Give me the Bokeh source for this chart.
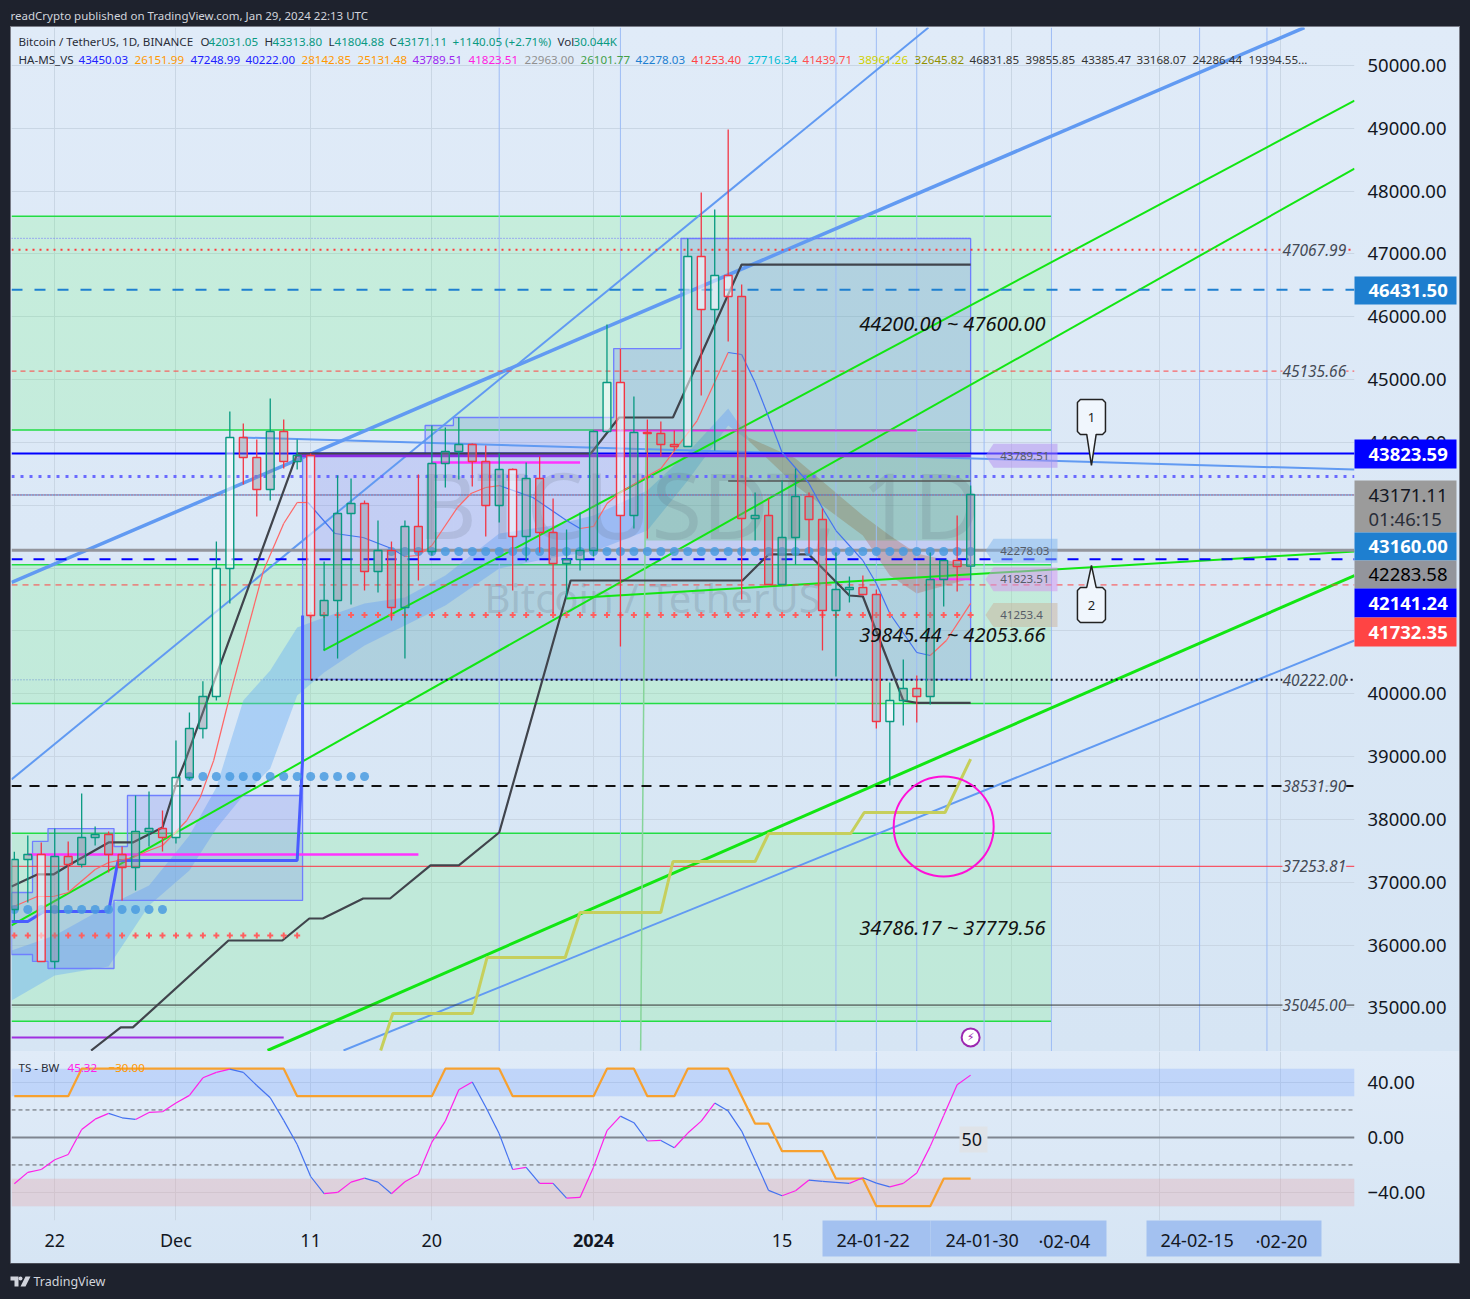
from bokeh.plotting import figure
from bokeh.layouts import column
from bokeh.models import Range1d, FixedTicker, Grid, Label, BoxAnnotation, NumeralTickFormatter
from bokeh.core.properties import value
from bokeh.embed import file_html
from bokeh.resources import INLINE

FONT = "Noto Sans"
BG = "#dce9f6"
DARK = "#1e222d"

# ---------- candles: day (0 = 2024-01-01), open, close, high, low ----------
days = list(range(-43, 29))
o_c_h_l = [
 (36566,37362,37487,36391),(37362,37442,37744,36678),(37442,35739,37633,35739),(35739,37410,37855,35627),
 (37410,37283,37649,36869),(37283,37712,38413,37235),(37712,37760,37887,37585),(37760,37442,37807,37156),
 (37442,37235,37569,36710),(37235,37807,38381,36869),(37807,37855,38445,37569),(37855,37712,38142,37490),
 (37712,38667,39256,37617),(38667,39447,39702,38636),(39447,39957,40200,39288),(39957,41994,42423,39893),
 (41994,44079,44493,41437),(44079,43760,44302,43330),(43760,43251,44047,42821),(43251,44174,44700,43076),
 (44174,43697,44365,43585),(43697,43792,44047,43569),(43792,41246,43824,40227),(41246,41484,42105,40689),
 (41484,42869,43474,40561),(42869,43028,43426,41421),(43028,41946,43076,41644),(41946,42280,42758,41612),
 (42280,41373,42423,41166),(41373,42662,42758,40561),(42662,42264,43490,41803),(42264,43665,44270,42201),
 (43665,43856,44238,43283),(43856,43967,44397,43410),(43967,43697,43983,43298),(43697,42996,43951,42503),
 (42996,43569,43824,42726),(43569,42503,43585,41644),(42503,43426,43681,42105),(43426,42567,43776,42248),
 (42567,42073,43108,41278),(42073,42137,42614,41516),(42137,42280,42885,41962),(42280,44174,44190,42185),
 (44174,44954,45877,44174),(44954,42837,45495,40752),(42837,44158,44731,42630),(44158,44142,44365,42471),
 (44142,43967,44333,43776),(43967,43936,44190,43872),(43936,46960,47246,43936),(46960,46116,47978,44747),
 (46116,46657,47708,43872),(46657,46323,48981,45607),(46323,42789,46514,41500),(42789,42837,43203,42439),
 (42837,41739,43108,41739),(41739,42487,43394,41739),(42487,43140,43585,42057),(43140,42774,43203,42232),
 (42774,41325,42949,40689),(41325,41660,42248,40275),(41660,41692,41866,41453),(41692,41580,41882,41564),
 (41580,39558,41660,39447),(39558,39893,40179,38540),(39893,40084,40545,39495),(40084,39957,40291,39542),
 (39957,41819,42248,39829),(41819,42121,42121,41389),(42121,42026,42837,41628),(42031,43171,43314,41805),
]
light_days = [-41,-31,-28,-27,-21,-6,1,2,7,8,9,10,22]

# ---------- levels ----------
right_tags = ["46431.50", "43823.59", "43171.11", "01:46:15", "43160.00", "42283.58", "42141.24", "41732.35"]
level_texts = [("47067.99", 47067.99), ("45135.66", 45135.66), ("40222.00", 40222.00),
               ("38531.90", 38531.90), ("37253.81", 37253.81), ("35045.00", 35045.00)]
LEFT, RIGHT = -43.21, 56.5
levels = [
 (47248.99, LEFT, 28, "#6a6aff", 1, "1 2"),
 (47067.99, LEFT, RIGHT, "#ff3b3b", 2, "2 5"),
 (46431.50, LEFT, RIGHT, "#1e7fd0", 2, "11 12"),
 (45135.66, LEFT, RIGHT, "#ff4444", 1, "5 4"),
 (43823.59, LEFT, RIGHT, "#0000ff", 2, "solid"),
 (43458.00, LEFT, RIGHT, "#6a6aff", 3, "3 6"),
 (43164.00, LEFT, RIGHT, "#3a7fd0", 1, "solid"),
 (43164.00, LEFT, RIGHT, "#ff4444", 1, "1 2"),
 (42283.58, LEFT, RIGHT, "#93959c", 3, "solid"),
 (42141.24, LEFT, RIGHT, "#0000ff", 2, "11 11"),
 (41732.35, LEFT, RIGHT, "#ff4444", 1, "6 5"),
 (40222.00, LEFT, -21, "#6a90d0", 1, "1 2"),
 (40222.00, -21, RIGHT, "#111122", 2, "2 3"),
 (38531.90, LEFT, RIGHT, "#111111", 2, "10 8"),
 (37253.81, LEFT, RIGHT, "#ff3344", 1, "solid"),
 (35045.00, LEFT, RIGHT, "#333333", 1, "solid"),
 (43385.47, 10, 28, "#555555", 1.5, "solid"),
 (37442.00, -42, -13, "#ff33ff", 2.5, "solid"),
 (43681.00, -12, -1, "#ff33ff", 2.5, "solid"),
 (44190.00, 0, 24, "#e030e0", 2, "solid"),
 (43789.51, -22, 28, "#8a2be2", 3, "solid"),
 (41823.51, 25, 28, "#ff33ff", 2, "solid"),
 (34529.00, LEFT, -23, "#a030e0", 2, "solid"),
]
zone_low = [44200.00, 39845.44, 34786.17]
zone_high = [47600.00, 42053.66, 37779.56]
zone_text = ["44200.00 ~ 47600.00", "39845.44 ~ 42053.66", "34786.17 ~ 37779.56"]
zone_text_day = [26.65, 26.65, 26.65]
zone_text_price = [45895, 40945, 36280]
ZONE_END = 34
box_edges = [LEFT, -41.65, -40.5, -35.6, -34.6, -21.6, -12.5, -10.4, 1.5, 6.5, 28]
box_top = [36837, 37649, 37855, 37569, 38381, 43824, 44270, 44397, 45495, 47246]
box_bot = [35850, 35739, 35627, 36710, 36710, 40227, 40227, 40227, 40227, 40227]
rib_days = [LEFT, -40, -36, -33, -30, -28, -26, -24, -22, -20, -17, -14, -11, -7, -3, 0, 4, 7, 10, 11.5]
rib_up = [35914, 36153, 36630, 36948, 37744, 38508, 39893, 40370, 41055, 41214, 41437, 41532, 41882, 42551,
          42678, 42837, 43235, 43840, 44540, 44079]
rib_lo = [35118, 35516, 35659, 36630, 37187, 37855, 38381, 38811, 39973, 40339, 40768, 41087, 41405, 41994,
          42169, 42264, 42598, 43394, 44270, 44031]
brn_days = [11.5, 15, 20, 22, 24, 28]
brn_up = [44079, 43744, 42837, 42519, 42232, 42041]
brn_lo = [44031, 43314, 42519, 41882, 41596, 41835]
trends = [
 (LEFT, 41771, 52.78, 50604, "#619af2", 3.5),
 (LEFT, 38636, 24.87, 50604, "#619af2", 2),
 (-18.56, 34322, RIGHT, 40848, "#619af2", 2),
 (-26.06, 44079, RIGHT, 43569, "#619af2", 2),
 (LEFT, 36312, RIGHT, 48360, "#12e612", 2),
 (-20.04, 40689, RIGHT, 49442, "#12e612", 2),
 (-24.2, 34322, RIGHT, 41882, "#12e612", 3),
 (-2, 41516, RIGHT, 42264, "#12e612", 2),
 (3.9, 44174, 3.5, 34322, "#86d49a", 1.5),
]
olive_d = [-15.8, -14.9, -9, -7.9, -2.1, -1, 5, 5.9, 12, 13, 19.1, 20.1, 26.1, 28]
olive_p = [34322, 34911, 34911, 35803, 35803, 36519, 36519, 37330, 37330, 37776, 37776, 38110, 38110, 38961]
black1_d = [LEFT, -41.3, -40.1, -39, -36, -34.2, -32, -30.9, -30.3, -22, -0.2, 1.9, 5.9, 11, 28]
black1_p = [36933, 37124, 37124, 37267, 37633, 37633, 37872, 38620, 38938, 43824, 43824, 44397, 44397, 46832, 46832]
black2_d = [-37.3, -35.1, -34.2, -27.1, -23.1, -21.1, -20.1, -17.1, -15.1, -12.1, -10, -7, -1.7, 11.06, 13, 16, 19, 20, 23, 24, 28]
black2_p = [34322, 34689, 34689, 36073, 36073, 36423, 36423, 36741, 36741, 37267, 37267, 37792, 41803, 41803, 42217, 42217,
            41564, 41548, 39893, 39856, 39856]
ha_d = [LEFT, -42, -40.8, -36, -35.3, -22, -21.6, -21.6]
ha_p = [36375, 36375, 36535, 36535, 37346, 37346, 38938, 41246]
thin_d = [LEFT, -41.3, -40.1, -39, -37, -36, -34.2, -33, -32, -30.2, -29.2, -28.2, -26.9, -24.5, -23, -22, -21.2, -19.2, -17.1, -15,
          -14, -13, -12, -10.1, -9.1, -8, -7, -4.5, -2, -1, 0, 1, 2, 3.8, 5, 7.7, 10, 11, 12, 12.9, 14, 16, 17.1, 18, 20, 21, 22, 24,
          25, 26.2, 28]
thin_p = [36598, 36773, 36773, 36837, 37203, 37314, 37394, 37506, 37585, 37983, 38349, 38938, 40052, 41962, 42710, 43044, 43044,
          42551, 42487, 42312, 42185, 42201, 42360, 42965, 43188, 43283, 43314, 43124, 42758, 42630, 42662, 43028, 43203, 43442, 43585,
          44349, 45432, 45400, 44954, 44461, 43840, 43347, 42917, 42598, 42121, 41755, 41278, 40657, 40609, 40848, 41439]
dots_rows = [(36566, -43, -32), (38683, -30, -17), (42264, -15, 28)]
plus_rows = [(36152, -43, -22), (41253, -21, 28)]
vlines = [-7, 2, 18, 21, 24, 29, 34, 45, 50]
flag_values = [43789.51, 42278.03, 41823.51, 41253.4]
flag_text = ["43789.51", "42278.03", "41823.51", "41253.4"]
flag_colors = ["#b18cf0", "#7fb6ee", "#d694ee", "#c9b49c"]
grid_days = [-40, -31, -21, -12, 0, 14, 31, 42, 51]
price_ticks = list(range(35000, 50001, 1000))

# ---------- oscillator ----------
osc_days = list(range(-43, 29))
osc_vals = [-33.7,-25.4,-23.3,-16.2,-12.4,5.8,13.3,17.5,14.3,13.1,18.2,18.7,25,30.6,43.4,47.3,49.7,47.3,37.8,28.9,12.4,-5.1,
            -28.4,-40.9,-40,-32.5,-29.6,-32.5,-40.9,-32.2,-26.7,-3.4,11.9,34.7,40.3,22.1,2.7,-23.3,-21.8,-33.4,-33.4,-44.1,-43.6,
            -21.6,4.9,15.5,10.7,-2.6,-2.2,-7.5,3.2,11.9,25,19.2,4.6,-16.7,-38.5,-42.4,-38.8,-31,-32,-32.7,-33.4,-29.3,-33.2,-35.9,
            -33.4,-25.9,-6.5,16,38.3,45.32]
osc_orange = [30,30,30,30,30,50,50,50,50,50,50,50,50,50,50,50,50,50,50,50,50,30,30,30,30,30,30,30,30,30,30,30,50,50,50,50,50,
              30,30,30,30,30,30,30,50,50,50,30,30,30,50,50,50,50,30,10,10,-10,-10,-10,-10,-30,-30,-30,-50,-50,-50,-50,-50,-30,-30,-30]
osc_ticks = [40, 0, -40]
osc_tick_text = {40: "40.00", 0: "0.00", -40: "\u221240.00"}
date_ticks = {-40: "22", -31: "Dec", -21: "11", -12: "20", 14: "15"}

legend1 = [("Bitcoin / TetherUS, 1D, BINANCE", 18, "#2a2e39"), ("O", 200, "#2a2e39"), ("42031.05", 208, "#089981"),
           ("H", 264, "#2a2e39"), ("43313.80", 272, "#089981"), ("L", 328, "#2a2e39"), ("41804.88", 334, "#089981"),
           ("C", 389, "#2a2e39"), ("43171.11", 397, "#089981"), ("+1140.05 (+2.71%)", 452, "#089981"),
           ("Vol", 557, "#2a2e39"), ("30.044K", 573, "#089981")]
legend2 = [("HA-MS_VS", 18, "#2a2e39"), ("43450.03", 78, "#2020ff"), ("26151.99", 134, "#ff9800"), ("47248.99", 190, "#2020ff"),
           ("40222.00", 245, "#2020ff"), ("28142.85", 301, "#ff9800"), ("25131.48", 357, "#ff9800"), ("43789.51", 412, "#9c27f0"),
           ("41823.51", 468, "#ff20e0"), ("22963.00", 524, "#909090"), ("26101.77", 580, "#43a047"), ("42278.03", 635, "#1e7fd0"),
           ("41253.40", 691, "#ff4444"), ("27716.34", 747, "#00bcd4"), ("41439.71", 802, "#ff5050"), ("38961.26", 858, "#d0d000"),
           ("32645.82", 914, "#909000"), ("46831.85", 969, "#333333"), ("39855.85", 1025, "#333333"), ("43385.47", 1081, "#333333"),
           ("33168.07", 1136, "#333333"), ("24286.44", 1192, "#333333"), ("19394.55...", 1248, "#333333")]

# ---------- main figure ----------
def base_grid(p):
    p.add_layout(Grid(dimension=0, ticker=FixedTicker(ticks=grid_days), grid_line_color="#c9d6e4", grid_line_width=1))

xr = Range1d(LEFT, RIGHT)
PANE = {"background": "linear-gradient(#e0ebf8, #d6e5f4)"}
main = figure(width=1448, height=1024, x_range=xr, y_range=Range1d(34306, 50604.7), output_backend="svg", toolbar_location=None,
              x_axis_location=None, y_axis_location="right", min_border_left=0, min_border_top=0, min_border_bottom=0,
              min_border_right=105, background_fill_alpha=0, border_fill_alpha=0, outline_line_color=None, styles=PANE)
main.grid.visible = False
base_grid(main)
main.add_layout(Grid(dimension=1, ticker=FixedTicker(ticks=price_ticks), grid_line_color="#c9d6e4", grid_line_width=1))
ya = main.yaxis[0]
ya.ticker = FixedTicker(ticks=price_ticks)
ya.formatter = NumeralTickFormatter(format="0.00")
ya.axis_line_color = None
ya.major_tick_line_color = None
ya.minor_tick_line_color = None
ya.major_tick_out = 0
ya.major_label_standoff = 13
ya.major_label_text_font = FONT
ya.major_label_text_font_size = "18.5px"
ya.major_label_text_color = "#131722"

main.quad(left=LEFT, right=ZONE_END, bottom=zone_low, top=zone_high, fill_color="#3dfd42", fill_alpha=0.15, line_color=None)
for v in zone_low + zone_high:
    main.line([LEFT, ZONE_END], [v, v], line_color="#22dd44", line_width=1.5)
main.patch(rib_days + rib_days[::-1], rib_up + rib_lo[::-1], fill_color="#68aef5", fill_alpha=0.42, line_color=None)
main.patch(brn_days + brn_days[::-1], brn_up + brn_lo[::-1], fill_color="#c9784f", fill_alpha=0.42, line_color=None)
main.quad(left=box_edges[:-1], right=box_edges[1:], top=box_top, bottom=box_bot, fill_color="#6567f1", fill_alpha=0.2, line_color=None)
ox, oy = [], []
for i in range(len(box_top)):
    ox += [box_edges[i], box_edges[i + 1]]
    oy += [box_top[i], box_top[i]]
for i in range(len(box_bot) - 1, -1, -1):
    ox += [box_edges[i + 1], box_edges[i]]
    oy += [box_bot[i], box_bot[i]]
main.line(ox + ox[:1], oy + oy[:1], line_color="#6f7fff", line_width=1.3)
main.quad(left=3.9, right=28, bottom=42439, top=44174, fill_color="#28b43c", fill_alpha=0.25, line_color=None)

for d in vlines:
    main.line([d, d], [34306, 50604], line_color="#9dbcf5", line_width=1)

main.text(x=[-13.1], y=[43035], text=["BTCUSDT, 1D"], text_font=value(FONT), text_font_size="92px", text_color="#5a6478",
          text_alpha=0.17, text_baseline="middle", text_align="left")
main.text(x=[-8.1], y=[41530], text=["Bitcoin / TetherUS"], text_font=value(FONT), text_font_size="40px", text_color="#5a6478",
          text_alpha=0.2, text_baseline="middle", text_align="left")

for (d0, p0, d1, p1, c, w) in trends:
    main.line([d0, d1], [p0, p1], line_color=c, line_width=w)
for (v, d0, d1, c, w, dash) in levels:
    main.line([d0, d1], [v, v], line_color=c, line_width=w, line_dash=dash)
main.line(olive_d, olive_p, line_color="#c6cf5c", line_width=3)
main.line(ha_d, ha_p, line_color="#4a5cff", line_width=3)
main.line(black1_d, black1_p, line_color="#40444c", line_width=2.2)
main.line(black2_d, black2_p, line_color="#40444c", line_width=2.2)
thin_c = ["#4472f0" if b < a else "#ff6666" for a, b in zip(thin_p[:-1], thin_p[1:])]
main.segment(thin_d[:-1], thin_p[:-1], thin_d[1:], thin_p[1:], line_color=thin_c, line_width=1.2)

for (v, a, b) in dots_rows:
    xs = list(range(a, b + 1))
    main.scatter(xs, [v] * len(xs), marker="circle", size=9, fill_color="#4a9be0", fill_alpha=0.85, line_color=None)
for (v, a, b) in plus_rows:
    xs = list(range(a, b + 1))
    main.scatter(xs, [v] * len(xs), marker="cross", size=6, line_color="#ff5f5f", line_width=2)

GREEN, RED = "#089981", "#f23645"
col = [GREEN if c >= o else RED for (o, c, h, l) in o_c_h_l]
hi = [r[2] for r in o_c_h_l]
lo = [r[3] for r in o_c_h_l]
top = [max(r[0], r[1]) for r in o_c_h_l]
bot = [min(r[0], r[1]) for r in o_c_h_l]
main.segment(days, hi, days, top, line_color=col, line_width=1.3)
main.segment(days, bot, days, lo, line_color=col, line_width=1.3)
fills = ["#ffffff" if d in light_days else "#8c8c96" for d in days]
alphas = [0.55 if d in light_days else 0.38 for d in days]
main.vbar(x=days, width=0.58, top=top, bottom=bot, fill_color=fills, fill_alpha=alphas, line_color=col, line_width=1.4)

main.scatter([26], [37888], marker="circle", size=100, fill_alpha=0, line_color="#ff10d8", line_width=2)

hh = 191
for v, c, t in zip(flag_values, flag_colors, flag_text):
    main.patch([29.1, 29.7, 34.45, 34.45, 29.7], [v, v + hh, v + hh, v - hh, v - hh], fill_color=c, fill_alpha=0.5, line_color=None)
    main.text(x=[30.2], y=[v], text=[t], text_font=value(FONT), text_font_size="11.5px", text_color="#555c68",
              text_baseline="middle", text_align="left")

cx, hw, ch, cv = 36.97, 1.04, 0.22, 48
main.patch([cx - hw + ch, cx + hw - ch, cx + hw, cx + hw, cx + hw - ch, cx + 0.35, cx, cx - 0.35, cx - hw + ch, cx - hw, cx - hw],
           [44684, 44684, 44684 - cv, 44127 + cv, 44127, 44127, 43633, 44127, 44127, 44127 + cv, 44684 - cv],
           fill_color="#f0f6fd", line_color="#222222", line_width=1.5)
main.patch([cx - hw + ch, cx + hw - ch, cx + hw, cx + hw, cx + hw - ch, cx + 0.35, cx, cx - 0.35, cx - hw + ch, cx - hw, cx - hw],
           [41135, 41135, 41135 + cv, 41692 - cv, 41692, 41692, 42041, 41692, 41692, 41692 - cv, 41135 + cv],
           fill_color="#f0f6fd", line_color="#222222", line_width=1.5)
main.text(x=[cx, cx], y=[44405, 41410], text=["1", "2"], text_font=value(FONT), text_font_size="13px", text_color="#222222",
          text_align="center", text_baseline="middle")

main.text(x=zone_text_day, y=zone_text_price, text=zone_text, text_font=value(FONT), text_font_size="20px", text_font_style="italic",
          text_color="#111111", text_align="center", text_baseline="middle")

for t, v in level_texts:
    main.add_layout(Label(x=51.15, y=v, text=t, text_font=FONT, text_font_size="15.5px", text_font_style="italic", text_color="#444a55",
                          text_baseline="middle", background_fill_color=BG, background_fill_alpha=0.9))

main.scatter([28], [34530], marker="circle", size=18, fill_color="#ffffff", line_color="#9c27b0", line_width=2)
main.text(x=[28], y=[34530], text=["\u26a1"], text_font=value("DejaVu Sans"), text_font_size="11px", text_color="#9c27b0",
          text_align="center", text_baseline="middle")

def scr(p, text, px, py, color, size="12px", style="normal", h=None, font=FONT, align="left"):
    p.add_layout(Label(x=px - 11, y=h - py, x_units="screen", y_units="screen", text=text, text_font=font, text_font_size=size,
                       text_font_style=style, text_color=color, text_baseline="middle", text_align=align, level="overlay"))
for t, x, c in legend1:
    scr(main, t, x, 41, c, size="11.6px", h=1051)
for t, x, c in legend2:
    scr(main, t, x, 59, c, size="11.6px", h=1051)

# ---------- oscillator ----------
osc = figure(width=1448, height=212, x_range=xr, y_range=Range1d(-60.4, 62.5), output_backend="svg", toolbar_location=None,
             x_axis_location="below", y_axis_location="right", min_border_left=0, min_border_top=0, min_border_bottom=43,
             min_border_right=105, background_fill_alpha=0, border_fill_alpha=0, outline_line_color=None, styles=PANE)
osc.grid.visible = False
base_grid(osc)
osc.add_layout(Grid(dimension=1, ticker=FixedTicker(ticks=osc_ticks), grid_line_color="#c9d6e4", grid_line_width=1))
osc.quad(left=LEFT, right=RIGHT, bottom=30, top=50, fill_color="#6e9fff", fill_alpha=0.28, line_color=None)
osc.quad(left=LEFT, right=RIGHT, bottom=-50, top=-30, fill_color="#e89a9a", fill_alpha=0.28, line_color=None)
osc.line([LEFT, RIGHT], [0, 0], line_color="#7f8590", line_width=2)
for v in (20, -20):
    osc.line([LEFT, RIGHT], [v, v], line_color="#5d6066", line_width=1, line_dash="4 3")
osc.line([21, 21], [-60.4, 62.5], line_color="#9dbcf5", line_width=1)
osc.line(osc_days, osc_orange, line_color="#f7a12f", line_width=2.2)
seg_c = ["#4472f0" if b < a else "#ff20e8" for a, b in zip(osc_vals[:-1], osc_vals[1:])]
osc.segment(osc_days[:-1], osc_vals[:-1], osc_days[1:], osc_vals[1:], line_color=seg_c, line_width=1.2)

xa = osc.xaxis[0]
xa.ticker = FixedTicker(ticks=list(date_ticks.keys()))
xa.major_label_overrides = date_ticks
xa.axis_line_color = None
xa.major_tick_line_color = None
xa.minor_tick_line_color = None
xa.major_tick_out = 0
xa.major_label_standoff = 7
xa.major_label_text_font = FONT
xa.major_label_text_font_size = "18px"
xa.major_label_text_color = "#131722"
ya2 = osc.yaxis[0]
ya2.ticker = FixedTicker(ticks=osc_ticks)
ya2.major_label_overrides = osc_tick_text
ya2.axis_line_color = None
ya2.major_tick_line_color = None
ya2.minor_tick_line_color = None
ya2.major_tick_out = 0
ya2.major_label_standoff = 13
ya2.major_label_text_font = FONT
ya2.major_label_text_font_size = "18.5px"
ya2.major_label_text_color = "#131722"

def scr2(text, px, py, color, size="12px", style="normal"):
    scr(osc, text, px, py, color, size=size, style=style, h=1220)

osc.add_layout(BoxAnnotation(left=959 - 11, right=987 - 11, left_units="screen", right_units="screen",
                             top=1220 - 1126, bottom=1220 - 1152, top_units="screen", bottom_units="screen",
                             fill_color="#dfe3e8", fill_alpha=1, line_color=None, level="overlay"))
scr2("TS - BW", 18, 1067, "#2a2e39", size="11.6px")
scr2("45.32", 67, 1067, "#ff20e8", size="11.6px")
scr2("\u221230.00", 108, 1067, "#ff9800", size="11.6px")
scr2("50", 961, 1139, "#131722", size="18px")

# ---------- overlay pane: price tags and highlighted dates sit over both axes ----------
over = figure(width=1448, height=1236, x_range=Range1d(11, 1459), y_range=Range1d(1263, 27), output_backend="svg", toolbar_location=None,
              x_axis_location=None, y_axis_location=None, min_border=0, background_fill_alpha=0, border_fill_alpha=0,
              outline_line_color=None, margin=(-1236, 0, 0, 0), frame_align=False)
over.grid.visible = False

tag_top = [276, 439, 480, 532, 560, 588, 617]
tag_bot = [304, 468, 532, 560, 588, 617, 646]
tag_fill = ["#1e7fd0", "#0000ff", "#9b9b9b", "#1e7fd0", "#93959c", "#0000ff", "#ff4444"]
over.quad(left=1354, right=1456, top=tag_top, bottom=tag_bot, fill_color=tag_fill, line_color=None)
tag_y = [290, 453.5, 495, 518, 546, 574, 602.5, 631.5]
tag_c = ["#ffffff", "#ffffff", "#131722", "#2a2e39", "#ffffff", "#000000", "#ffffff", "#ffffff"]
tag_s = ["bold", "bold", "normal", "normal", "bold", "normal", "bold", "bold"]
for t, y, c, s in zip(right_tags, tag_y, tag_c, tag_s):
    over.text(x=[1368], y=[y], text=[t], text_font=value(FONT), text_font_size="18.5px", text_font_style=s, text_color=c,
              text_baseline="middle", text_align="left")
over.quad(left=[822, 930, 1146], right=[930, 1106, 1321], top=[1220] * 3, bottom=[1256] * 3, fill_color="#a3c1f0", line_color=None)
for t, x in (("24-01-22", 836), ("24-01-30", 945), ("\u00b702-04", 1038), ("24-02-15", 1160), ("\u00b702-20", 1255)):
    over.text(x=[x], y=[1240], text=[t], text_font=value(FONT), text_font_size="18px", text_color="#131722", text_baseline="middle")
over.text(x=[593], y=[1240], text=["2024"], text_font=value(FONT), text_font_size="18px", text_font_style="bold", text_color="#131722",
          text_baseline="middle", text_align="center")

# ---------- header and footer ----------
def strip(h):
    s = figure(width=1454, height=h, x_range=Range1d(0, 1454), y_range=Range1d(h, 0), output_backend="svg", toolbar_location=None,
               x_axis_location=None, y_axis_location=None, min_border=0, background_fill_color=DARK, border_fill_color=DARK,
               outline_line_color=None)
    s.grid.visible = False
    return s
head = strip(19)
head.text(x=[2], y=[6.5], text=["readCrypto published on TradingView.com, Jan 29, 2024 22:13 UTC"], text_font=value(FONT),
          text_font_size="11.5px", text_color="#d1d4dc", text_baseline="middle")
foot = strip(28)
foot.text(x=[25], y=[18], text=["TradingView"], text_font=value(FONT), text_font_size="12.5px", text_color="#d1d4dc", text_baseline="middle")
foot.patch([2, 10, 10, 6, 6, 2], [13, 13, 23, 23, 17, 17], fill_color="#d1d4dc", line_color=None)
foot.patch([17, 22, 17, 12], [13, 13, 23, 23], fill_color="#d1d4dc", line_color=None)
foot.scatter([12], [15], marker="circle", size=4, fill_color="#d1d4dc", line_color=None)

inner = column(main, osc, over, spacing=0, margin=(0, 0, 0, 3), styles={"outline": "1px solid #787b86"})
page = column(head, inner, foot, spacing=0, margin=(8, 0, 0, 8))
html = file_html(page, INLINE)
html = html.replace("</head>", "<style>html,body{background:#1e222d}</style></head>")
open("out.html", "w").write(html)
